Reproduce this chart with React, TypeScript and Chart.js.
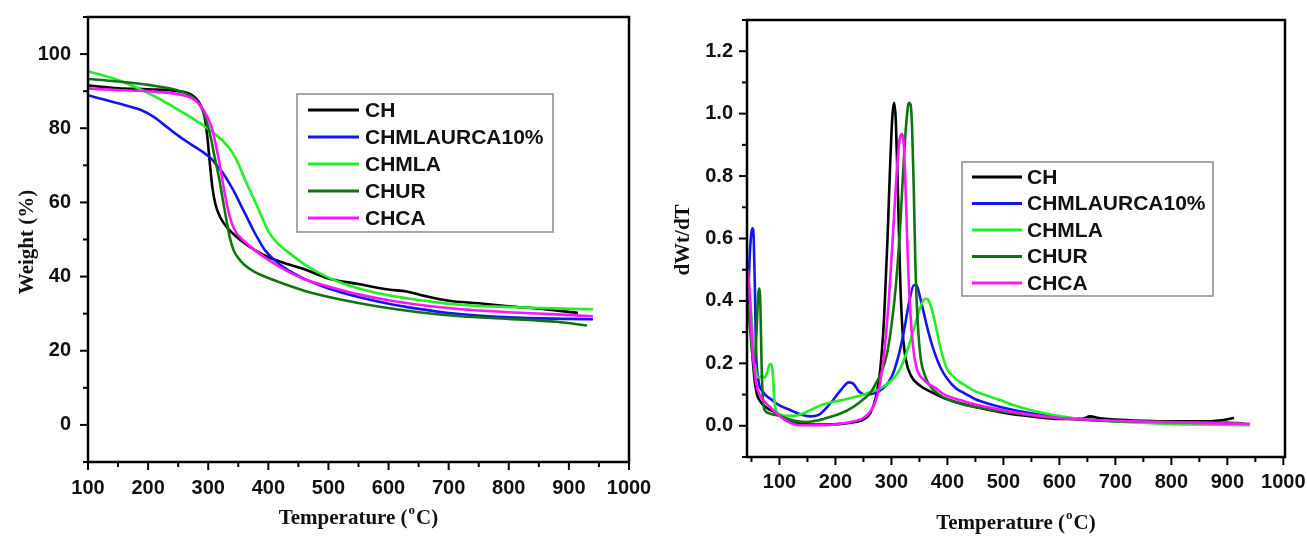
import React, { useEffect, useRef } from 'react';
import { Chart, registerables } from 'chart.js';

Chart.register(...registerables);

// ---------- Legend / series ----------
const seriesNames = ['CH', 'CHMLAURCA10%', 'CHMLA', 'CHUR', 'CHCA'];
const seriesColors = ['#000000', '#1414f0', '#22ee22', '#0c760c', '#ff14ff'];
const seriesOrder = [4, 3, 2, 1, 0];

// ---------- TGA (Weight %) ----------
const tgaChT = [100, 150, 200, 250, 270, 280, 288, 294, 299, 303, 307, 312, 320, 330, 345, 365, 390, 420, 460, 500, 550, 600, 630, 660, 700, 750, 800, 860, 915];
const tgaChW = [91.5, 90.8, 90.5, 90, 89.2, 88, 86, 83, 77, 70, 64, 59.5, 56, 53.5, 51, 48.5, 46, 44, 42, 39.5, 38, 36.5, 36, 34.8, 33.5, 32.8, 32, 31.2, 30.2];

const tgaMixT = [100, 130, 160, 190, 210, 230, 250, 270, 290, 305, 315, 325, 335, 345, 355, 365, 375, 385, 395, 410, 430, 460, 500, 550, 600, 650, 700, 800, 900, 940];
const tgaMixW = [88.9, 87.6, 86.3, 84.8, 83, 80.5, 78, 75.8, 73.7, 71.8, 69.8, 67.8, 65.2, 62.3, 59, 55.8, 52.5, 49.6, 47, 44.5, 42, 39.4, 36.8, 34.5, 32.7, 31.3, 30.2, 29, 28.6, 28.5];

const tgaMlaT = [100, 150, 200, 250, 300, 325, 340, 350, 360, 370, 380, 390, 400, 415, 430, 460, 500, 530, 580, 650, 720, 800, 900, 940];
const tgaMlaW = [95.4, 93, 89.5, 85, 79.8, 76.5, 73.5, 70.5, 66.6, 63, 59.5, 55.8, 52.2, 49, 47, 43.3, 39.7, 37.8, 35.6, 33.7, 32.4, 31.8, 31.3, 31.2];

const tgaUrT = [100, 150, 200, 250, 270, 280, 290, 297, 304, 311, 318, 324, 330, 336, 342, 350, 360, 375, 400, 430, 470, 520, 580, 650, 720, 800, 880, 930];
const tgaUrW = [93.3, 92.6, 91.7, 90.2, 88.8, 87.5, 85.2, 82, 77.7, 72, 66.6, 61, 55.5, 50.5, 47.2, 45, 43.2, 41.5, 39.6, 37.8, 35.7, 33.8, 32, 30.4, 29.3, 28.6, 27.8, 26.8];

const tgaCaT = [100, 150, 200, 250, 265, 276, 285, 292, 297, 302, 307, 312, 318, 323, 328, 333, 339, 346, 355, 365, 380, 400, 430, 460, 500, 550, 600, 650, 720, 800, 880, 940];
const tgaCaW = [90.7, 90.3, 90, 89.2, 88.6, 87.8, 86.5, 85, 83.5, 81.8, 79.6, 76, 71.2, 66.5, 62, 58, 54.5, 52, 50.3, 48.8, 46.8, 44.5, 41.6, 39.3, 37.3, 35.2, 33.6, 32.4, 31.2, 30.4, 29.8, 29.3];

// ---------- DTG (dWt/dT) ----------
const dtgChT = [44, 48, 52, 56, 60, 65, 75, 90, 110, 130, 150, 180, 210, 235, 250, 262, 272, 280, 287, 293, 298, 302, 305, 308, 312, 316, 320, 326, 335, 350, 375, 400, 450, 500, 550, 600, 640, 655, 670, 700, 750, 800, 850, 890, 912];
const dtgChV = [0.45, 0.35, 0.22, 0.14, 0.1, 0.08, 0.06, 0.045, 0.025, 0.01, 0.005, 0.004, 0.006, 0.012, 0.02, 0.04, 0.09, 0.18, 0.35, 0.6, 0.85, 1.0, 1.035, 0.97, 0.72, 0.45, 0.3, 0.21, 0.16, 0.13, 0.105, 0.085, 0.06, 0.042, 0.03, 0.022, 0.022, 0.03, 0.025, 0.02, 0.016, 0.014, 0.014, 0.018, 0.025];

const dtgMixT = [44, 47, 50, 52, 54, 56, 58, 62, 70, 85, 100, 120, 140, 155, 170, 190, 210, 224, 232, 242, 255, 270, 285, 300, 312, 322, 332, 340, 345, 350, 358, 366, 376, 388, 400, 415, 430, 450, 475, 500, 550, 600, 650, 700, 800, 900, 940];
const dtgMixV = [0.4, 0.55, 0.62, 0.633, 0.6, 0.45, 0.25, 0.15, 0.11, 0.085, 0.065, 0.05, 0.035, 0.03, 0.035, 0.07, 0.115, 0.139, 0.135, 0.11, 0.1, 0.105, 0.12, 0.155, 0.22, 0.3, 0.4, 0.45, 0.45, 0.42, 0.36, 0.3, 0.24, 0.185, 0.15, 0.12, 0.105, 0.085, 0.07, 0.058, 0.04, 0.028, 0.02, 0.015, 0.01, 0.006, 0.005];

const dtgMlaT = [44, 48, 52, 56, 60, 64, 68, 74, 78, 82, 85, 88, 91, 95, 100, 110, 125, 140, 155, 170, 185, 200, 220, 240, 260, 280, 300, 315, 330, 340, 348, 355, 360, 365, 370, 378, 385, 392, 400, 412, 427, 445, 465, 490, 520, 550, 580, 620, 700, 800, 900, 940];
const dtgMlaV = [0.48, 0.4, 0.3, 0.2, 0.16, 0.155, 0.16, 0.155, 0.17, 0.195, 0.198, 0.17, 0.08, 0.045, 0.038, 0.032, 0.032, 0.038, 0.05, 0.063, 0.072, 0.078, 0.086, 0.095, 0.106, 0.12, 0.145, 0.18, 0.25, 0.31, 0.36, 0.395, 0.407, 0.405, 0.385, 0.33, 0.27, 0.22, 0.18, 0.155, 0.135, 0.115, 0.1, 0.085, 0.065, 0.05, 0.038, 0.026, 0.014, 0.006, 0.003, 0.002];

const dtgUrT = [44, 48, 52, 56, 59, 62, 64, 66, 68, 71, 76, 85, 100, 115, 130, 150, 170, 190, 210, 230, 250, 262, 272, 282, 292, 300, 308, 316, 322, 327, 331, 334, 337, 340, 343, 347, 352, 360, 370, 385, 400, 425, 450, 500, 550, 600, 650, 700, 800, 900, 930];
const dtgUrV = [0.38, 0.3, 0.22, 0.2, 0.3, 0.42, 0.44, 0.38, 0.2, 0.07, 0.045, 0.038, 0.032, 0.022, 0.015, 0.012, 0.018, 0.028, 0.04, 0.058, 0.085, 0.105, 0.135, 0.17, 0.23, 0.32, 0.45, 0.65, 0.85, 0.98, 1.035, 1.03, 0.95, 0.75, 0.5, 0.33, 0.22, 0.16, 0.125, 0.1, 0.085, 0.07, 0.06, 0.045, 0.033, 0.024, 0.018, 0.015, 0.012, 0.01, 0.008];

const dtgCaT = [44, 47, 50, 54, 58, 63, 70, 80, 95, 110, 125, 140, 160, 190, 215, 235, 250, 262, 272, 280, 288, 296, 303, 309, 314, 318, 322, 326, 330, 335, 341, 348, 356, 365, 377, 390, 405, 427, 450, 500, 550, 600, 700, 800, 900, 940];
const dtgCaV = [0.5, 0.42, 0.3, 0.2, 0.14, 0.105, 0.085, 0.065, 0.04, 0.018, 0.006, 0.002, 0.002, 0.003, 0.008, 0.015, 0.025, 0.045, 0.08, 0.14, 0.25, 0.42, 0.62, 0.8, 0.91, 0.935, 0.9, 0.72, 0.5, 0.33, 0.22, 0.17, 0.15, 0.135, 0.123, 0.105, 0.092, 0.08, 0.068, 0.05, 0.035, 0.025, 0.016, 0.011, 0.007, 0.006];

// ---------- Axis texts ----------
const tgaYTitle = 'Weight (%)';
const dtgYTitle = 'dWt/dT';
const xTitleMain = 'Temperature (';
const xTitleSup = 'o';
const xTitleEnd = 'C)';

const pts = (xs: number[], ys: number[]) => xs.map((x, i) => ({ x, y: ys[i] }));

const tickFont = { family: '"Liberation Sans", Arial, sans-serif', size: 20, weight: 'bold' as const };
const titleFont = 'bold 21px "Liberation Serif", "Times New Roman", serif';
const supFont = 'bold 13px "Liberation Serif", "Times New Roman", serif';
const legendFont = 'bold 21px "Liberation Sans", Arial, sans-serif';

const decorPlugin = {
  id: 'decor',
  afterDraw(chart: any, _args: any, opts: any) {
    const { ctx, chartArea: a } = chart;
    const xs = chart.scales.x;
    const ys = chart.scales.y;
    ctx.save();
    ctx.strokeStyle = '#000';
    ctx.lineWidth = 2;
    // x tick marks
    xs.ticks.forEach((t: any) => {
      const px = xs.getPixelForValue(t.value);
      if (px < a.left - 1 || px > a.right + 1) return;
      const major = t.label !== '' && t.label !== undefined;
      ctx.beginPath();
      ctx.moveTo(px, a.bottom);
      ctx.lineTo(px, a.bottom + (major ? 8 : 5));
      ctx.stroke();
    });
    ys.ticks.forEach((t: any) => {
      const py = ys.getPixelForValue(t.value);
      if (py < a.top - 1 || py > a.bottom + 1) return;
      const major = t.label !== '' && t.label !== undefined;
      ctx.beginPath();
      ctx.moveTo(a.left, py);
      ctx.lineTo(a.left - (major ? 8 : 5), py);
      ctx.stroke();
    });
    // frame
    ctx.lineWidth = 2.5;
    ctx.strokeRect(a.left, a.top, a.right - a.left, a.bottom - a.top);

    // legend box
    const lg = opts.legend;
    ctx.fillStyle = '#ffffff';
    ctx.fillRect(lg.x, lg.y, lg.w, lg.h);
    ctx.strokeStyle = '#8a8a8a';
    ctx.lineWidth = 1.5;
    ctx.strokeRect(lg.x, lg.y, lg.w, lg.h);
    ctx.font = legendFont;
    ctx.textBaseline = 'middle';
    ctx.textAlign = 'left';
    seriesNames.forEach((name, i) => {
      const cy = lg.y + lg.first + i * lg.row;
      ctx.strokeStyle = seriesColors[i];
      ctx.lineWidth = 3;
      ctx.beginPath();
      ctx.moveTo(lg.x + lg.l0, cy);
      ctx.lineTo(lg.x + lg.l1, cy);
      ctx.stroke();
      ctx.fillStyle = '#111';
      ctx.fillText(name, lg.x + lg.tx, cy + 1);
    });

    // axis titles
    ctx.fillStyle = '#111';
    ctx.font = titleFont;
    const w1 = ctx.measureText(xTitleMain).width;
    const w3 = ctx.measureText(xTitleEnd).width;
    ctx.font = supFont;
    const w2 = ctx.measureText(xTitleSup).width + 2;
    const total = w1 + w2 + w3;
    const cx = (a.left + a.right) / 2;
    const x0 = cx - total / 2;
    const ty = opts.xTitleY;
    ctx.textBaseline = 'middle';
    ctx.textAlign = 'left';
    ctx.font = titleFont;
    ctx.fillText(xTitleMain, x0, ty);
    ctx.font = supFont;
    ctx.fillText(xTitleSup, x0 + w1 + 1, ty - 8);
    ctx.font = titleFont;
    ctx.fillText(xTitleEnd, x0 + w1 + w2, ty);

    ctx.save();
    ctx.translate(opts.yTitleX, opts.yTitleY);
    ctx.rotate(-Math.PI / 2);
    ctx.textAlign = 'center';
    ctx.fillText(opts.yTitle, 0, 0);
    ctx.restore();

    ctx.restore();
  },
};

type PanelProps = {
  left: number;
  width: number;
  datasets: { x: number; y: number }[][];
  xMin: number;
  xMax: number;
  yMin: number;
  yMax: number;
  yStep: number;
  yMajor: number;
  yDecimals: number;
  padTop: number;
  padRight: number;
  axisW: number;
  axisH: number;
  xPad: number;
  yPad: number;
  decor: any;
};

function Panel(p: PanelProps) {
  const ref = useRef<HTMLCanvasElement | null>(null);
  useEffect(() => {
    if (!ref.current) return;
    const chart = new Chart(ref.current, {
      type: 'line',
      data: {
        datasets: p.datasets.map((d, i) => ({
          label: seriesNames[i],
          data: d,
          borderColor: seriesColors[i],
          backgroundColor: seriesColors[i],
          borderWidth: 2.6,
          pointRadius: 0,
          fill: false,
          cubicInterpolationMode: 'monotone' as const,
          order: seriesOrder[i],
        })),
      },
      options: {
        animation: false,
        responsive: false,
        devicePixelRatio: 1,
        layout: { padding: { top: p.padTop, right: p.padRight, left: 0, bottom: 0 } },
        plugins: {
          legend: { display: false },
          tooltip: { enabled: false },
          decor: p.decor,
        } as any,
        scales: {
          x: {
            type: 'linear',
            min: p.xMin,
            max: p.xMax,
            grid: { display: false, drawTicks: false },
            border: { display: false },
            ticks: {
              stepSize: 50,
              includeBounds: false,
              autoSkip: false,
              maxRotation: 0,
              padding: p.xPad,
              color: '#111',
              font: tickFont,
              callback: (v: any) => (Math.round(v) % 100 === 0 ? String(Math.round(v)) : ''),
            },
            afterFit: (s: any) => {
              s.height = p.axisH;
              s.paddingLeft = 0;
              s.paddingRight = 0;
            },
          },
          y: {
            type: 'linear',
            min: p.yMin,
            max: p.yMax,
            grid: { display: false, drawTicks: false },
            border: { display: false },
            ticks: {
              stepSize: p.yStep,
              includeBounds: false,
              autoSkip: false,
              padding: p.yPad,
              color: '#111',
              font: tickFont,
              callback: (v: any) => {
                const k = Math.round(v / p.yStep);
                const m = Math.round(p.yMajor / p.yStep);
                if (k % m !== 0 || v < -1e-9) return '';
                return Number(v).toFixed(p.yDecimals);
              },
            },
            afterFit: (s: any) => {
              s.width = p.axisW;
              s.paddingTop = 0;
              s.paddingBottom = 0;
            },
          },
        },
      } as any,
      plugins: [decorPlugin],
    });
    return () => chart.destroy();
  }, []);
  return (
    <canvas
      ref={ref}
      width={p.width}
      height={538}
      style={{ position: 'absolute', left: p.left, top: 0, width: p.width, height: 538, display: 'block' }}
    />
  );
}

export default function App() {
  const tgaSets = [
    pts(tgaChT, tgaChW),
    pts(tgaMixT, tgaMixW),
    pts(tgaMlaT, tgaMlaW),
    pts(tgaUrT, tgaUrW),
    pts(tgaCaT, tgaCaW),
  ];
  const dtgSets = [
    pts(dtgChT, dtgChV),
    pts(dtgMixT, dtgMixV),
    pts(dtgMlaT, dtgMlaV),
    pts(dtgUrT, dtgUrV),
    pts(dtgCaT, dtgCaV),
  ];
  return (
    <div style={{ position: 'fixed', left: 0, top: 0, width: 1307, height: 538, background: '#fff', overflow: 'hidden' }}>
      <Panel
        left={0}
        width={653}
        datasets={tgaSets}
        xMin={100}
        xMax={1000}
        yMin={-10}
        yMax={110}
        yStep={10}
        yMajor={20}
        yDecimals={0}
        padTop={17}
        padRight={24}
        axisW={88}
        axisH={76}
        xPad={14}
        yPad={17}
        decor={{
          legend: { x: 297, y: 94, w: 256, h: 138, first: 16, row: 27, l0: 11, l1: 62, tx: 68 },
          xTitleY: 519,
          yTitle: tgaYTitle,
          yTitleX: 28,
          yTitleY: 242,
        }}
      />
      <Panel
        left={653}
        width={654}
        datasets={dtgSets}
        xMin={42}
        xMax={1003}
        yMin={-0.1}
        yMax={1.3}
        yStep={0.1}
        yMajor={0.2}
        yDecimals={1}
        padTop={20}
        padRight={22}
        axisW={94}
        axisH={81}
        xPad={13}
        yPad={14}
        decor={{
          legend: { x: 309, y: 162, w: 251, h: 134, first: 15, row: 26.5, l0: 10, l1: 60, tx: 65 },
          xTitleY: 524,
          yTitle: dtgYTitle,
          yTitleX: 31,
          yTitleY: 240,
        }}
      />
    </div>
  );
}
